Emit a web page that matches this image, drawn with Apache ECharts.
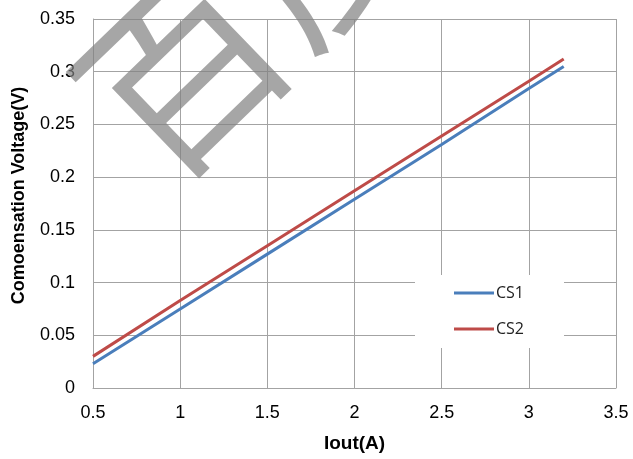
<!DOCTYPE html>
<html>
<head>
<meta charset="utf-8">
<script src="https://cdn.jsdelivr.net/npm/echarts@6/dist/echarts.min.js"></script>
<style>html,body{margin:0;padding:0;background:#fff}#c{width:633px;height:459px}</style>
</head>
<body>
<div id="c"></div>
<script>
var xValues = [0.5, 1, 1.5, 2, 2.5, 3, 3.2];
var cs1 = [0.023, 0.075, 0.127, 0.179, 0.231, 0.284, 0.305];
var cs2 = [0.030, 0.083, 0.135, 0.187, 0.239, 0.291, 0.312];
var seriesNames = ['CS1', 'CS2'];
var xAxisName = 'Iout(A)';
var yAxisName = 'Comoensation Voltage(V)';
var watermarkChars = ['百', '度'];

function pairs(xs, ys) { return xs.map(function (x, i) { return [x, ys[i]]; }); }

var chart = echarts.init(document.getElementById('c'));
var gridColor = '#a3a3a3';
var rot = 44 * Math.PI / 180;
var em = 195;
var c0 = [182, 70];
var wm = watermarkChars.map(function (ch, i) {
  return {
    type: 'text', z: 1,
    x: c0[0] + i * em * Math.cos(rot), y: c0[1] - i * em * Math.sin(rot),
    rotation: rot,
    style: { text: ch, font: 'normal ' + em + 'px "Noto Sans CJK SC"', fill: 'rgba(128,128,128,0.7)',
      textAlign: 'center', textVerticalAlign: 'middle' }
  };
});
chart.setOption({
  animation: false,
  backgroundColor: '#fff',
  grid: { left: 93, right: 17, top: 19, bottom: 71, containLabel: false, outerBoundsMode: 'none' },
  xAxis: {
    type: 'value', min: 0.5, max: 3.5, interval: 0.5,
    name: xAxisName, nameLocation: 'middle', nameGap: 46,
    nameTextStyle: { fontFamily: 'Liberation Sans', fontSize: 19, fontWeight: 'bold', color: '#000' },
    axisLine: { show: true, lineStyle: { color: gridColor, width: 1 } },
    axisTick: { show: false },
    axisLabel: { margin: 16, fontFamily: 'Liberation Sans', fontSize: 18, color: '#000',
      formatter: function (v) { return String(+v.toFixed(2)); } },
    splitLine: { show: true, lineStyle: { color: gridColor, width: 1 } }
  },
  yAxis: {
    type: 'value', min: 0, max: 0.35, interval: 0.05,
    name: yAxisName, nameLocation: 'middle', nameGap: 65,
    nameTextStyle: { fontFamily: 'Liberation Sans', fontSize: 18, fontWeight: 'bold', color: '#000',
      padding: [0, 0, 0, 16] },
    axisLine: { show: true, lineStyle: { color: gridColor, width: 1 } },
    axisTick: { show: false },
    axisLabel: { margin: 18, fontFamily: 'Liberation Sans', fontSize: 18, color: '#000',
      formatter: function (v) { return String(+v.toFixed(2)); } },
    splitLine: { show: true, lineStyle: { color: gridColor, width: 1 } }
  },
  legend: {
    orient: 'vertical', left: 415, top: 275,
    padding: [10, 40, 11, 39],
    backgroundColor: '#fff',
    itemWidth: 40, itemHeight: 3, itemGap: 20,
    icon: 'rect',
    textStyle: { fontFamily: 'Open Sans', fontSize: 16, color: '#222', padding: [0, 0, 0, -3] },
    data: seriesNames
  },
  graphic: wm,
  series: [
    { name: seriesNames[0], type: 'line', data: pairs(xValues, cs1), showSymbol: false, z: 3,
      lineStyle: { color: '#4a7ebb', width: 3 }, itemStyle: { color: '#4a7ebb' } },
    { name: seriesNames[1], type: 'line', data: pairs(xValues, cs2), showSymbol: false, z: 3,
      lineStyle: { color: '#be4b48', width: 3 }, itemStyle: { color: '#be4b48' } }
  ]
});
</script>
</body>
</html>
